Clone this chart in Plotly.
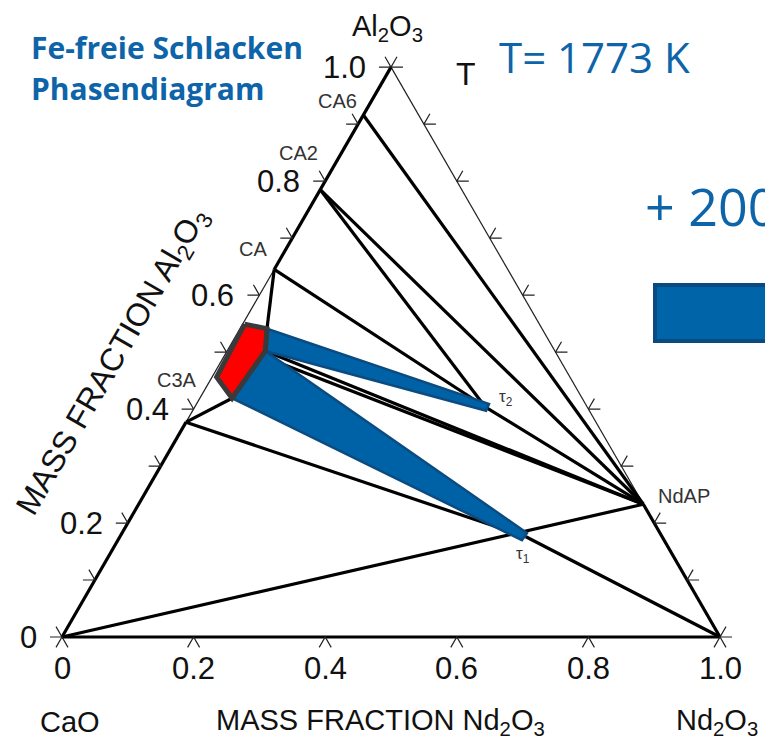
import math
import plotly.graph_objects as go

# ---------------- data (mass fractions: Al2O3, Nd2O3; CaO = remainder) ----------------
point_names = ["CaO", "Nd2O3", "Al2O3", "CA6", "CA2", "CA", "C3A", "NdAP", "tau1", "tau2",
               "L_tl", "L_tr", "L_r", "L_rl", "L_b", "L_l"]
point_al = [0.0, 0.0, 1.0, 0.916, 0.785, 0.645, 0.377, 0.233, 0.176, 0.404,
            0.549, 0.541, 0.502, 0.493, 0.419, 0.456]
point_nd = [0.0, 1.0, 0.0, 0.0, 0.0, 0.0, 0.0, 0.767, 0.617, 0.441,
            0.003, 0.041, 0.058, 0.057, 0.049, 0.007]

liquid_pts = ["L_tl", "L_tr", "L_r", "L_b", "L_l"]
band_tau2_al = [0.541, 0.409, 0.397, 0.502]
band_tau2_nd = [0.041, 0.4445, 0.446, 0.058]
band_tau1_al = [0.502, 0.1825, 0.170, 0.419]
band_tau1_nd = [0.058, 0.6154, 0.614, 0.049]

thick_lines = [("Al2O3", "CA"), ("C3A", "CaO"), ("CaO", "Nd2O3"), ("NdAP", "Nd2O3"),
               ("CaO", "NdAP"), ("C3A", "tau1"), ("tau1", "Nd2O3"), ("C3A", "L_b"),
               ("CA", "L_tr"), ("CA", "tau2"), ("CA2", "tau2"), ("CA2", "NdAP"),
               ("CA6", "NdAP"), ("tau2", "NdAP"), ("L_r", "NdAP"), ("L_rl", "NdAP")]
thin_lines = [("Al2O3", "NdAP"), ("CA", "C3A")]

left_ticks = [0.0, 0.1, 0.2, 0.3, 0.4, 0.5, 0.6, 0.7, 0.8, 0.9, 1.0]
right_ticks = [0.0, 0.1, 0.2, 0.3, 0.4, 0.5, 0.6, 0.7, 0.8, 0.9, 1.0]
bottom_ticks = [0.0, 0.2, 0.4, 0.6, 0.8, 1.0]
label_vals = [0.0, 0.2, 0.4, 0.6, 0.8, 1.0]
label_text = ["0", "0.2", "0.4", "0.6", "0.8", "1.0"]

phase_labels = ["CA6", "CA2", "CA", "C3A", "NdAP", "τ<sub>1</sub>", "τ<sub>2</sub>"]
phase_label_pts = ["CA6", "CA2", "CA", "C3A", "NdAP", "tau1", "tau2"]

# ---------------- helpers ----------------
S3 = math.sqrt(3) / 2
W, H = 765, 756
PXU = 658.0              # pixels per unit composition
X0PX, Y0PX = 62.0, 637.0  # pixel position of CaO corner

def cart(al, nd):
    return nd + al / 2.0, al * S3

P = {n: cart(a, d) for n, a, d in zip(point_names, point_al, point_nd)}

def seg_trace(pairs, width, color="black"):
    xs, ys = [], []
    for a, b in pairs:
        xs += [P[a][0], P[b][0], None]
        ys += [P[a][1], P[b][1], None]
    return go.Scatter(x=xs, y=ys, mode="lines", line=dict(color=color, width=width),
                      hoverinfo="skip", showlegend=False)

def poly_trace(al, nd, fill, line, lw):
    xy = [cart(a, d) for a, d in zip(al, nd)]
    xs = [p[0] for p in xy] + [xy[0][0]]
    ys = [p[1] for p in xy] + [xy[0][1]]
    return go.Scatter(x=xs, y=ys, mode="lines", fill="toself", fillcolor=fill,
                      line=dict(color=line, width=lw), hoverinfo="skip", showlegend=False)

fig = go.Figure()
fig.add_trace(seg_trace(thin_lines, 1.2, "#222222"))
fig.add_trace(seg_trace(thick_lines, 3.2))

fig.add_trace(poly_trace(band_tau2_al, band_tau2_nd, "#0062a6", "#0b4b80", 2.5))
fig.add_trace(poly_trace(band_tau1_al, band_tau1_nd, "#0062a6", "#0b4b80", 2.5))
liq_al = [point_al[point_names.index(n)] for n in liquid_pts]
liq_nd = [point_nd[point_names.index(n)] for n in liquid_pts]
fig.add_trace(poly_trace(liq_al, liq_nd, "#ff0000", "#3a3a3a", 5))

# ticks
L = 12.0 / PXU
tx, ty = [], []
for v in left_ticks:
    x, y = cart(v, 0.0)
    tx += [x - L, x, x - 0.5 * L, None]
    ty += [y, y, y + S3 * L, None]
for v in right_ticks:
    x, y = cart(v, 1.0 - v)
    tx += [x + L, x, x + 0.5 * L, None]
    ty += [y, y, y + S3 * L, None]
for v in bottom_ticks:
    x, y = cart(0.0, v)
    tx += [x - 0.5 * L, x, x + 0.5 * L, None]
    ty += [y - S3 * L, y, y - S3 * L, None]
fig.add_trace(go.Scatter(x=tx, y=ty, mode="lines", line=dict(color="#222222", width=1.2),
                         hoverinfo="skip", showlegend=False))

FONT = "Liberation Sans, Arial, sans-serif"
ann = []
# tick labels
for v, t in zip(label_vals, label_text):
    x, y = cart(v, 0.0)
    ann.append(dict(x=x, y=y, text=t, xanchor="right", yanchor="middle", xshift=-23,
                    showarrow=False, font=dict(family=FONT, size=31, color="#111111")))
    x, y = cart(0.0, v)
    ann.append(dict(x=x, y=y, text=t, xanchor="center", yanchor="middle", yshift=-31,
                    showarrow=False, font=dict(family=FONT, size=31, color="#111111")))

# phase labels
shifts = {"CA6": (-26, 14), "CA2": (-22, 37), "CA": (-21, 20), "C3A": (-9, 42),
          "NdAP": (41, 8), "tau1": (-3, -18), "tau2": (21, 9)}
for txt, n in zip(phase_labels, phase_label_pts):
    sx, sy = shifts[n]
    small = n.startswith("tau")
    ann.append(dict(x=P[n][0], y=P[n][1], text=txt, xshift=sx, yshift=sy, showarrow=False,
                    xanchor="center", yanchor="middle",
                    font=dict(family=FONT, size=17 if small else 20, color="#333333")))

def px(xp, yp):
    return dict(xref="paper", yref="paper", x=xp / W, y=1 - yp / H)

# corner and axis titles
ann.append(dict(**px(387, 28), text="Al<sub>2</sub>O<sub>3</sub>", showarrow=False,
                xanchor="center", yanchor="middle", font=dict(family=FONT, size=29, color="#111111")))
ann.append(dict(**px(70, 722), text="CaO", showarrow=False, xanchor="center", yanchor="middle",
                font=dict(family=FONT, size=29, color="#111111")))
ann.append(dict(**px(717, 722), text="Nd<sub>2</sub>O<sub>3</sub>", showarrow=False,
                xanchor="center", yanchor="middle", font=dict(family=FONT, size=29, color="#111111")))
ann.append(dict(**px(380, 722), text="MASS FRACTION Nd<sub>2</sub>O<sub>3</sub>", showarrow=False,
                xanchor="center", yanchor="middle", font=dict(family=FONT, size=29, color="#111111")))
ann.append(dict(**px(113, 362), text="MASS FRACTION Al<sub>2</sub>O<sub>3</sub>", showarrow=False,
                textangle=-60, xanchor="center", yanchor="middle",
                font=dict(family=FONT, size=32, color="#111111")))
ann.append(dict(**px(466, 74), text="T", showarrow=False, xanchor="center", yanchor="middle",
                font=dict(family=FONT, size=32, color="#111111")))

BLUE = "#0e64a8"
ann.append(dict(**px(29, 47), text="<b>Fe-freie Schlacken</b>", showarrow=False,
                xanchor="left", yanchor="middle", font=dict(family="Open Sans", size=30, color=BLUE)))
ann.append(dict(**px(29, 88), text="<b>Phasendiagram</b>", showarrow=False,
                xanchor="left", yanchor="middle", font=dict(family="Open Sans", size=30, color=BLUE)))
ann.append(dict(**px(497, 57), text="T= 1773 K", showarrow=False, xanchor="left", yanchor="middle",
                font=dict(family="Open Sans", size=42, color=BLUE)))
ann.append(dict(**px(643, 205), text="+ 200", showarrow=False, xanchor="left", yanchor="middle",
                font=dict(family="Open Sans", size=52, color=BLUE)))

shapes = [dict(type="rect", xref="paper", yref="paper", x0=655 / W, x1=1.2,
               y0=1 - 341 / H, y1=1 - 285 / H, fillcolor="#0064a9",
               line=dict(color="#0b4a80", width=4))]

fig.update_layout(
    width=W, height=H, autosize=False,
    margin=dict(l=0, r=0, t=0, b=0),
    paper_bgcolor="white", plot_bgcolor="white",
    xaxis=dict(range=[-X0PX / PXU, (W - X0PX) / PXU], visible=False, fixedrange=True),
    yaxis=dict(range=[(Y0PX - H) / PXU, Y0PX / PXU], visible=False, fixedrange=True),
    annotations=ann, shapes=shapes, showlegend=False,
)
fig.write_html("out.html")
